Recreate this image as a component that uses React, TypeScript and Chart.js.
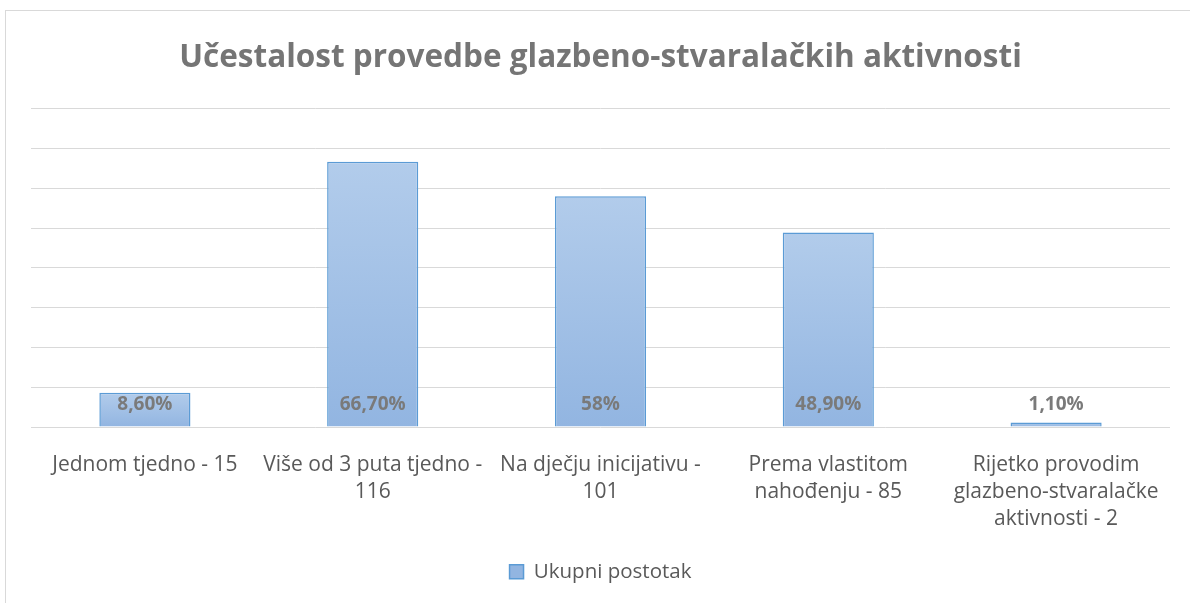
import React, { useEffect, useRef } from "react";
import { Chart, registerables } from "chart.js";

Chart.register(...registerables);

const chartTitle = "Učestalost provedbe glazbeno-stvaralačkih aktivnosti";
const categories: (string | string[])[] = [
  "Jednom tjedno - 15",
  ["Više od 3 puta tjedno -", "116"],
  ["Na dječju inicijativu -", "101"],
  ["Prema vlastitom", "nahođenju - 85"],
  ["Rijetko provodim", "glazbeno-stvaralačke", "aktivnosti - 2"],
];
const percentValues = [8.6, 66.7, 58, 48.9, 1.1];
const valueLabels = ["8,60%", "66,70%", "58%", "48,90%", "1,10%"];
const seriesName = "Ukupni postotak";
const yMin = 0;
const yMax = 80;
const yStep = 10;

const FONT = "'Open Sans'";

const framePlugin = {
  id: "frame",
  beforeDraw(chart: any) {
    const { ctx, width, height } = chart;
    ctx.save();
    ctx.fillStyle = "#ffffff";
    ctx.fillRect(0, 0, width, height);
    ctx.strokeStyle = "#d9d9d9";
    ctx.lineWidth = 1;
    ctx.strokeRect(5.5, 10.5, width + 20, height + 20);
    ctx.restore();
  },
};

const valueLabelPlugin = {
  id: "valueLabels",
  afterDatasetsDraw(chart: any) {
    const { ctx } = chart;
    const meta = chart.getDatasetMeta(0);
    const base = chart.scales.y.getPixelForValue(0);
    ctx.save();
    ctx.font = `bold 19px ${FONT}`;
    ctx.fillStyle = "#7a7a7a";
    ctx.textAlign = "center";
    ctx.textBaseline = "middle";
    meta.data.forEach((bar: any, i: number) => {
      ctx.fillText(valueLabels[i], bar.x, base - 22);
    });
    ctx.restore();
  },
};

export default function App() {
  const canvasRef = useRef<HTMLCanvasElement | null>(null);

  useEffect(() => {
    const canvas = canvasRef.current;
    if (!canvas) return;
    const chart = new Chart(canvas, {
      type: "bar",
      data: {
        labels: categories,
        datasets: [
          {
            label: seriesName,
            data: percentValues,
            backgroundColor: (c: any) => {
              const ch = c.chart;
              if (!ch.chartArea || c.raw === undefined) return "#a2c0e6";
              const y = ch.scales.y;
              const top = y.getPixelForValue(c.raw);
              const bottom = y.getPixelForValue(0);
              const g = ch.ctx.createLinearGradient(0, top, 0, Math.max(bottom, top + 1));
              g.addColorStop(0, "#b2cceb");
              g.addColorStop(1, "#92b5e1");
              return g;
            },
            borderColor: "#5b9bd5",
            borderWidth: 1.5,
            borderSkipped: "bottom",
            barPercentage: 0.4,
            categoryPercentage: 1,
          },
        ],
      },
      options: {
        animation: false,
        responsive: true,
        maintainAspectRatio: false,
        layout: { padding: { left: 31, right: 20, top: 0, bottom: 11 } },
        plugins: {
          title: {
            display: true,
            text: chartTitle,
            color: "#757575",
            font: { family: FONT, size: 31.5, weight: "bold" },
            padding: { top: 39, bottom: 32 },
          },
          legend: {
            display: true,
            position: "bottom",
            labels: {
              boxWidth: 14,
              boxHeight: 14,
              color: "#595959",
              font: { family: FONT, size: 20.5 },
              padding: 8,
            },
          },
          tooltip: { enabled: false },
        },
        scales: {
          x: {
            grid: { display: false, drawTicks: false },
            border: { display: false },
            ticks: {
              color: "#595959",
              font: { family: FONT, size: 21, lineHeight: 1.29 },
              padding: 24,
              maxRotation: 0,
              minRotation: 0,
              autoSkip: false,
            },
            afterFit: (scale: any) => {
              scale.height = 126.5;
            },
          },
          y: {
            min: yMin,
            max: yMax,
            ticks: { display: false, stepSize: yStep },
            grid: { color: "#d9d9d9", lineWidth: 1, drawTicks: false },
            border: { display: false },
          },
        },
      },
      plugins: [framePlugin, valueLabelPlugin],
    });
    return () => chart.destroy();
  }, []);

  return (
    <div style={{ position: "fixed", left: 0, top: 0, width: 1190, height: 603 }}>
      <canvas ref={canvasRef} />
    </div>
  );
}
